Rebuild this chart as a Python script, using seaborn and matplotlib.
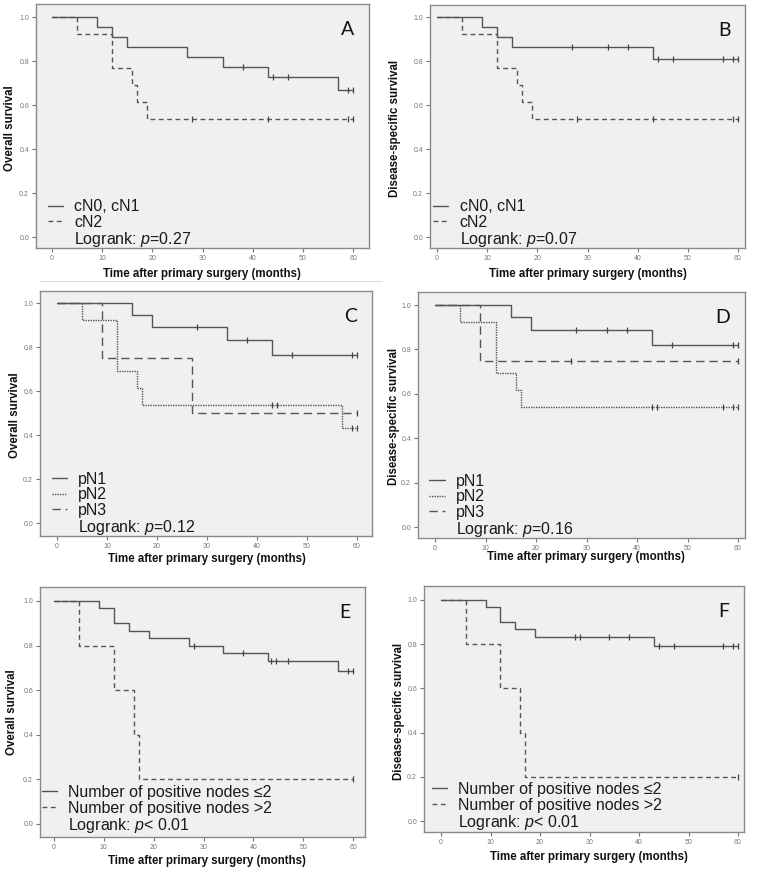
import numpy as np
import pandas as pd
import matplotlib
matplotlib.use("Agg")
import matplotlib.pyplot as plt
from matplotlib.lines import Line2D
import seaborn as sns

sns.set_theme(style="white")
plt.rcParams['font.family'] = ['Liberation Sans', 'DejaVu Sans']
plt.rcParams['mathtext.fontset'] = 'custom'
plt.rcParams['mathtext.it'] = 'Liberation Sans:italic'
plt.rcParams['mathtext.rm'] = 'Liberation Sans'

# ---------------- data (Kaplan-Meier steps) ----------------
# Panel A: overall survival by clinical N
A_cN01_time = [0, 9, 12, 15, 27, 34, 43, 57, 60]
A_cN01_surv = [1.0, 0.955, 0.909, 0.864, 0.818, 0.773, 0.727, 0.667, 0.667]
A_cN01_cens = [38, 44, 47, 59, 60]
A_cN2_time = [0, 5, 12, 16, 17, 19, 60]
A_cN2_surv = [1.0, 0.923, 0.769, 0.692, 0.615, 0.538, 0.538]
A_cN2_cens = [28, 43, 59, 60]

# Panel B: disease-specific survival by clinical N
B_cN01_time = [0, 9, 12, 15, 43, 60]
B_cN01_surv = [1.0, 0.955, 0.909, 0.864, 0.808, 0.808]
B_cN01_cens = [27, 34, 38, 44, 47, 57, 59, 60]
B_cN2_time = [0, 5, 12, 16, 17, 19, 60]
B_cN2_surv = [1.0, 0.923, 0.769, 0.692, 0.615, 0.538, 0.538]
B_cN2_cens = [28, 43, 59, 60]

# Panel C: overall survival by pathological N
C_pN1_time = [0, 15, 19, 34, 43, 60]
C_pN1_surv = [1.0, 0.944, 0.889, 0.831, 0.765, 0.765]
C_pN1_cens = [28, 38, 47, 59, 60]
C_pN2_time = [0, 5, 12, 16, 17, 57, 60]
C_pN2_surv = [1.0, 0.923, 0.692, 0.615, 0.538, 0.431, 0.431]
C_pN2_cens = [43, 44, 59, 60]
C_pN3_time = [0, 9, 27, 60]
C_pN3_surv = [1.0, 0.75, 0.50, 0.50]
C_pN3_cens = [60]

# Panel D: disease-specific survival by pathological N
D_pN1_time = [0, 15, 19, 43, 60]
D_pN1_surv = [1.0, 0.944, 0.889, 0.822, 0.822]
D_pN1_cens = [28, 34, 38, 47, 59, 60]
D_pN2_time = [0, 5, 12, 16, 17, 60]
D_pN2_surv = [1.0, 0.923, 0.692, 0.615, 0.540, 0.540]
D_pN2_cens = [43, 44, 57, 59, 60]
D_pN3_time = [0, 9, 60]
D_pN3_surv = [1.0, 0.75, 0.75]
D_pN3_cens = [27, 60]

# Panel E: overall survival by number of positive nodes
E_le2_time = [0, 9, 12, 15, 19, 27, 34, 43, 57, 60]
E_le2_surv = [1.0, 0.967, 0.900, 0.867, 0.833, 0.800, 0.765, 0.729, 0.685, 0.685]
E_le2_cens = [28, 38, 43.5, 44.5, 47, 59, 60]
E_gt2_time = [0, 5, 12, 16, 17, 60]
E_gt2_surv = [1.0, 0.8, 0.6, 0.4, 0.2, 0.2]
E_gt2_cens = [60]

# Panel F: disease-specific survival by number of positive nodes
F_le2_time = [0, 9, 12, 15, 19, 43, 60]
F_le2_surv = [1.0, 0.967, 0.900, 0.867, 0.833, 0.793, 0.793]
F_le2_cens = [27, 28, 34, 38, 44, 47, 57, 59, 60]
F_gt2_time = [0, 5, 12, 16, 17, 60]
F_gt2_surv = [1.0, 0.8, 0.6, 0.4, 0.2, 0.2]
F_gt2_cens = [60]

xticks = [0, 10, 20, 30, 40, 50, 60]
yticks = [0.0, 0.2, 0.4, 0.6, 0.8, 1.0]
xlabel = "Time after primary surgery (months)"
ylabel_os = "Overall survival"
ylabel_dss = "Disease-specific survival"

# ---------------- styling ----------------
W, H = 763, 874
fig = plt.figure(figsize=(W / 100, H / 100), dpi=100)
fig.patch.set_facecolor("white")

SOLID = "-"
DASH = (0, (3.5, 2.5))
DOT = (0, (1, 0.8))
LDASH = (0, (6, 3.5))
LCOL = "#555555"


def panel(box, x0, x60, y1, y0):
    l, t, r, b = box
    ax = fig.add_axes([l / W, 1 - b / H, (r - l) / W, (b - t) / H])
    pxm = (x60 - x0) / 60.0
    pyu = (y0 - y1)
    ax.set_xlim(-(x0 - l) / pxm, 60 + (r - x60) / pxm)
    ax.set_ylim(-(b - y0) / pyu, 1 + (y1 - t) / pyu)
    ax.set_facecolor("#f0f0f0")
    for s in ax.spines.values():
        s.set_color("#8a8a8a")
        s.set_linewidth(1.0)
    ax.set_xticks(xticks)
    ax.set_yticks(yticks)
    ax.set_xticklabels([str(v) for v in xticks])
    ax.set_yticklabels([f"{v:.1f}" for v in yticks])
    ax.tick_params(axis="both", which="both", labelsize=5, colors="#777777",
                   length=3, width=0.8, direction="out", bottom=True, left=True,
                   pad=2)
    ax.set_xlabel("")
    ax.set_ylabel("")
    return ax


def km(ax, times, surv, cens, ls, lw=1.0):
    df = pd.DataFrame({"t": times, "s": surv})
    sns.lineplot(data=df, x="t", y="s", ax=ax, estimator=None, sort=False,
                 drawstyle="steps-post", color=LCOL, linewidth=lw,
                 linestyle=ls, legend=False)
    ta = np.asarray(times, float)
    sa = np.asarray(surv, float)
    idx = np.searchsorted(ta, np.asarray(cens, float), side="right") - 1
    cdf = pd.DataFrame({"t": cens, "s": sa[idx]})
    sns.scatterplot(data=cdf, x="t", y="s", ax=ax, marker="|", s=22,
                    color="#444444", linewidth=0.9, legend=False, zorder=3)
    ax.set_xlabel("")
    ax.set_ylabel("")


def legend(ax, items, p_text, anchor):
    handles = [Line2D([0], [0], color=LCOL, lw=1.0, linestyle=ls) for _, ls in items]
    labels = [lab for lab, _ in items]
    handles.append(Line2D([0], [0], color="none", lw=0))
    labels.append(p_text)
    ax.legend(handles, labels, loc="lower left", bbox_to_anchor=anchor,
              frameon=False, fontsize=11.5, handlelength=0.95, handletextpad=0.7,
              labelspacing=0.03, borderpad=0, borderaxespad=0,
              labelcolor="#1a1a1a")


def letter(ax, s):
    ax.text(0.955, 0.93, s, transform=ax.transAxes, ha="right", va="top",
            fontsize=14, family=["Lato", "DejaVu Sans"], color="#111111")


def flabel(x, y, s, rot=0):
    fig.text(x / W, 1 - y / H, s, ha="center", va="center", rotation=rot,
             fontsize=8.3, fontweight="bold", color="#111111")


# Panel A
axA = panel((36, 4, 369, 248), 52, 353, 17, 237)
km(axA, A_cN01_time, A_cN01_surv, A_cN01_cens, SOLID)
km(axA, A_cN2_time, A_cN2_surv, A_cN2_cens, DASH)
legend(axA, [("cN0, cN1", SOLID), ("cN2", DASH)], "Logrank: $p$=0.27", (0.035, -0.005))
letter(axA, "A")
flabel(202, 274, xlabel)
flabel(10, 128, ylabel_os, 90)

# Panel B
axB = panel((430, 5, 745, 248), 437, 738, 17, 237)
km(axB, B_cN01_time, B_cN01_surv, B_cN01_cens, SOLID)
km(axB, B_cN2_time, B_cN2_surv, B_cN2_cens, DASH)
legend(axB, [("cN0, cN1", SOLID), ("cN2", DASH)], "Logrank: $p$=0.07", (0.01, -0.005))
letter(axB, "B")
flabel(588, 274, xlabel)
flabel(395, 128, ylabel_dss, 90)

# Panel C
axC = panel((40, 291, 372, 536), 57, 357, 303, 523)
km(axC, C_pN1_time, C_pN1_surv, C_pN1_cens, SOLID)
km(axC, C_pN2_time, C_pN2_surv, C_pN2_cens, DOT)
km(axC, C_pN3_time, C_pN3_surv, C_pN3_cens, LDASH)
legend(axC, [("pN1", SOLID), ("pN2", DOT), ("pN3", LDASH)], "Logrank: $p$=0.12", (0.035, -0.005))
letter(axC, "C")
flabel(207, 559, xlabel)
flabel(15, 415, ylabel_os, 90)

# Panel D
axD = panel((418, 292, 745, 538), 435, 738, 305, 527)
km(axD, D_pN1_time, D_pN1_surv, D_pN1_cens, SOLID)
km(axD, D_pN2_time, D_pN2_surv, D_pN2_cens, DOT)
km(axD, D_pN3_time, D_pN3_surv, D_pN3_cens, LDASH)
legend(axD, [("pN1", SOLID), ("pN2", DOT), ("pN3", LDASH)], "Logrank: $p$=0.16", (0.035, -0.005))
letter(axD, "D")
flabel(586, 557, xlabel)
flabel(394, 416, ylabel_dss, 90)

# Panel E
axE = panel((40, 587, 365, 837), 54, 353, 601, 824)
km(axE, E_le2_time, E_le2_surv, E_le2_cens, SOLID)
km(axE, E_gt2_time, E_gt2_surv, E_gt2_cens, DASH)
legend(axE, [("Number of positive nodes \u22642", SOLID), ("Number of positive nodes >2", DASH)],
       "Logrank: $p$< 0.01", (0.006, 0.008))
letter(axE, "E")
flabel(207, 861, xlabel)
flabel(12, 712, ylabel_os, 90)

# Panel F
axF = panel((424, 586, 744, 832), 441, 738, 600, 821)
km(axF, F_le2_time, F_le2_surv, F_le2_cens, SOLID)
km(axF, F_gt2_time, F_gt2_surv, F_gt2_cens, DASH)
legend(axF, [("Number of positive nodes \u22642", SOLID), ("Number of positive nodes >2", DASH)],
       "Logrank: $p$< 0.01", (0.025, 0.0))
letter(axF, "F")
flabel(589, 857, xlabel)
flabel(399, 711, ylabel_dss, 90)

# faint separator under panel A
fig.add_artist(Line2D([40 / W, 382 / W], [1 - 281 / H, 1 - 281 / H], color="#dddddd", lw=0.8))

fig.savefig("out.png", dpi=100, facecolor="white")
